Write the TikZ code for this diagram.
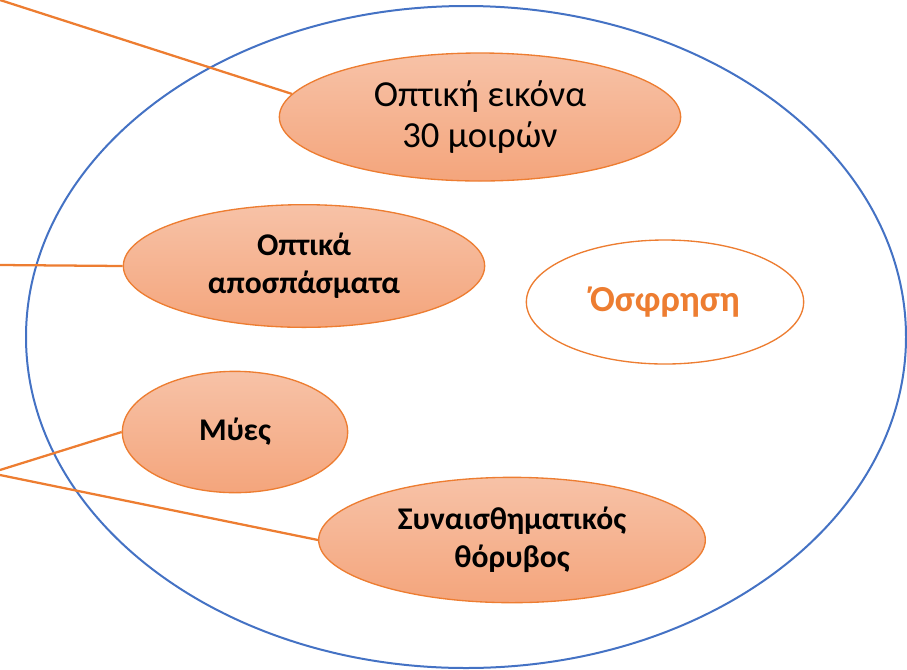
\documentclass[tikz,border=0pt]{standalone}
\usepackage{fontspec}
\setmainfont{Carlito}
\usetikzlibrary{shapes.geometric}
\definecolor{edgeor}{RGB}{237,125,49}
\definecolor{filltop}{RGB}{247,194,167}
\definecolor{fillbot}{RGB}{244,165,124}
\definecolor{rimblue}{RGB}{68,114,196}
\begin{document}
\begin{tikzpicture}
  [x=0.75pt,y=-0.75pt,
   every node/.style={ellipse,draw=edgeor,line width=1pt,inner sep=0pt,align=center,
     font=\fontsize{23.7}{28.5}\selectfont\bfseries},
   blob/.style={top color=filltop,bottom color=fillbot},
   wire/.style={edgeor,line width=1.7pt}]
  \useasboundingbox (0,0) rectangle (907,669);
  \draw[rimblue,line width=1.5pt] (466,337) ellipse [x radius=330pt,y radius=248.25pt];

  \node[blob,minimum width=301pt,minimum height=96pt,font=\fontsize{27.5}{31}\selectfont] (vis) at (480,117) {Οπτική εικόνα\\30 μοιρών};
  \node[blob,minimum width=271pt,minimum height=92pt] (frag) at (304,266) {Οπτικά\\αποσπάσματα};
  \node[fill=white,text=edgeor,minimum width=208pt,minimum height=93pt,font=\fontsize{27.5}{30}\selectfont\bfseries] (smell) at (665,302) {Όσφρηση};
  \node[blob,minimum width=169pt,minimum height=91pt] (mus) at (235,432) {Μύες};
  \node[blob,minimum width=290pt,minimum height=94pt] (noise) at (512,540) {Συναισθηματικός\\θόρυβος};

  \coordinate (p1) at (0,0);
  \coordinate (p2) at (0,265);
  \coordinate (p3) at (0,470);
  \coordinate (p4) at (0,475);
  \foreach \from/\to in {p1/vis.173,p2/frag.west,p3/mus.west,p4/noise.west}
    \draw[wire] (\from) -- (\to);

\end{tikzpicture}
\end{document}
